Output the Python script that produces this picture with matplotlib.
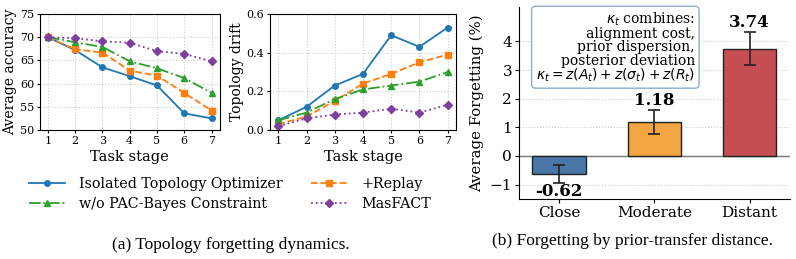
import matplotlib
matplotlib.use("Agg")
import matplotlib.pyplot as plt
import numpy as np

stages = [1, 2, 3, 4, 5, 6, 7]

acc_isolated = [70.0, 67.2, 63.5, 61.6, 59.6, 53.6, 52.5]
acc_replay = [70.0, 67.4, 66.7, 62.8, 61.7, 58.0, 54.2]
acc_nopac = [70.0, 68.9, 67.9, 64.8, 63.3, 61.2, 58.0]
acc_masfact = [70.0, 69.8, 69.1, 68.8, 67.0, 66.4, 64.8]

drift_isolated = [0.05, 0.12, 0.23, 0.29, 0.49, 0.43, 0.53]
drift_replay = [0.03, 0.07, 0.15, 0.24, 0.29, 0.35, 0.39]
drift_nopac = [0.05, 0.09, 0.16, 0.21, 0.23, 0.25, 0.30]
drift_masfact = [0.02, 0.06, 0.08, 0.09, 0.11, 0.09, 0.13]

groups = ["Close", "Moderate", "Distant"]
forget = [-0.62, 1.18, 3.74]
forget_err = [0.32, 0.42, 0.58]
bar_colors = ["#4a76a8", "#f2a541", "#c44e52"]

plt.rcParams["font.family"] = "DejaVu Serif"
plt.rcParams["mathtext.fontset"] = "dejavusans"

fig = plt.figure(figsize=(7.96, 2.59), dpi=100)

styles = [
  ("Isolated Topology Optimizer", "#1f77b4", "-", "o"),
  ("+Replay", "#ff7f0e", "--", "s"),
  ("w/o PAC-Bayes Constraint", "#2ca02c", "-.", "^"),
  ("MasFACT", "#7f3f9f", ":", "D"),
]

ax1 = fig.add_axes([0.050, 0.498, 0.226, 0.448])
ax2 = fig.add_axes([0.339, 0.498, 0.234, 0.448])

handles = []
for ax, series in [(ax1, [acc_isolated, acc_replay, acc_nopac, acc_masfact]),
                   (ax2, [drift_isolated, drift_replay, drift_nopac, drift_masfact])]:
  for (label, c, ls, m), ys in zip(styles, series):
    h, = ax.plot(stages, ys, color=c, linestyle=ls, marker=m, markersize=4,
                 linewidth=1.3, label=label)
    if ax is ax1:
      handles.append(h)
  ax.set_xticks(stages)
  ax.grid(True, linestyle=":", color="#cccccc", linewidth=0.8)
  ax.tick_params(labelsize=8, length=2.5, pad=1.5)
  ax.set_xlabel("Task stage", fontsize=10.5, labelpad=3)

ax1.set_ylim(50, 75)
ax1.set_yticks([50, 55, 60, 65, 70, 75])
ax1.set_ylabel("Average accuracy", fontsize=10, labelpad=2)
ax2.set_ylim(0, 0.6)
ax2.set_yticks([0.0, 0.2, 0.4, 0.6])
ax2.set_ylabel("Topology drift", fontsize=10, labelpad=2)

order = [0, 2, 1, 3]
fig.legend([handles[i] for i in order], [styles[i][0] for i in order],
           ncol=2, frameon=False, fontsize=10.3, loc="center",
           bbox_to_anchor=(0.289, 0.25), columnspacing=2.0, handlelength=2.5,
           handletextpad=1.0, labelspacing=0.45)

ax3 = fig.add_axes([0.652, 0.232, 0.340, 0.741])
x = np.arange(len(groups))
ax3.bar(x, forget, width=0.56, color=bar_colors, edgecolor="#222222", linewidth=1.0,
        yerr=forget_err, capsize=4, error_kw=dict(ecolor="#222222", elinewidth=1.2, capthick=1.2),
        zorder=3)
ax3.axhline(0, color="#777777", linewidth=1.0, zorder=2)
for xi, v, e in zip(x, forget, forget_err):
  if v < 0:
    ax3.text(xi, v - e - 0.02, f"{v:.2f}", ha="center", va="top", fontsize=12, fontweight="bold")
  else:
    ax3.text(xi, v + e + 0.03, f"{v:.2f}", ha="center", va="bottom", fontsize=12, fontweight="bold")
ax3.set_xlim(-0.42, 2.42)
ax3.set_ylim(-1.5, 5.2)
ax3.set_yticks([-1, 0, 1, 2, 3, 4])
ax3.set_yticklabels(["\u22121", "0", "1", "2", "3", "4"])
ax3.set_xticks(x)
ax3.set_xticklabels(groups)
ax3.tick_params(labelsize=11, length=3, pad=2)
ax3.set_ylabel("Average Forgetting (%)", fontsize=10.7, labelpad=4)
ax3.spines["top"].set_visible(False)
ax3.spines["right"].set_visible(False)
ax3.grid(True, axis="y", linestyle=":", color="#cccccc", linewidth=0.8, zorder=0)
ax3.set_axisbelow(True)

box_text = ("$\\kappa_t$ combines:\nalignment cost,\nprior dispersion,\nposterior deviation\n"
            "$\\kappa_t = z(A_t) + z(\\sigma_t) + z(R_t)$")
ax3.text(0.65, 0.982, box_text, transform=ax3.transAxes, ha="right", va="top",
         fontsize=10, linespacing=0.93,
         bbox=dict(boxstyle="round,pad=0.3", facecolor="white", edgecolor="#8faacc", linewidth=1.0),
         zorder=5)

fig.text(0.29, 0.055, "(a) Topology forgetting dynamics.", ha="center", va="center",
         fontsize=12.5, family="Liberation Serif")
fig.text(0.795, 0.07, "(b) Forgetting by prior-transfer distance.", ha="center", va="center",
         fontsize=12.5, family="Liberation Serif")

fig.savefig("out.png", dpi=100)
